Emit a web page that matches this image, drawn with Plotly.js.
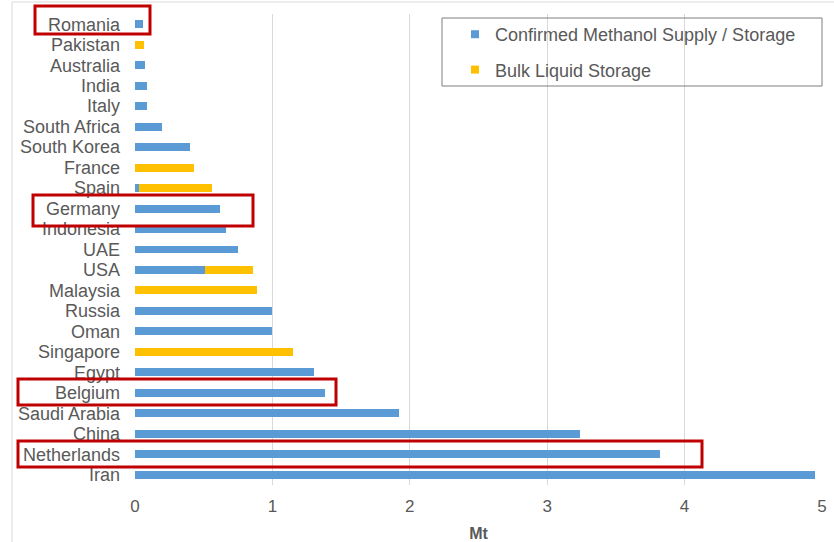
<!DOCTYPE html>
<html>
<head>
<meta charset="utf-8">
<script src="https://cdn.plot.ly/plotly-3.0.1.min.js"></script>
<style>
  html, body { margin: 0; padding: 0; background: #ffffff; }
  #chart { width: 834px; height: 542px; }
</style>
</head>
<body>
<div id="chart"></div>
<script>
// ---- data (top to bottom as shown) ----
const countries = ["Romania", "Pakistan", "Australia", "India", "Italy", "South Africa",
  "South Korea", "France", "Spain", "Germany", "Indonesia", "UAE", "USA", "Malaysia",
  "Russia", "Oman", "Singapore", "Egypt", "Belgium", "Saudi Arabia", "China",
  "Netherlands", "Iran"];
const methanolSupply = [0.06, 0, 0.07, 0.09, 0.09, 0.20, 0.40, 0, 0.03, 0.62, 0.66, 0.75,
  0.51, 0, 1.00, 1.00, 0, 1.30, 1.38, 1.92, 3.24, 3.82, 4.95];
const bulkStorage = [0, 0.065, 0, 0, 0, 0, 0, 0.43, 0.53, 0, 0, 0, 0.35, 0.885, 0, 0,
  1.15, 0, 0, 0, 0, 0, 0];
const seriesNames = ["Confirmed Methanol Supply / Storage", "Bulk Liquid Storage"];
const highlighted = ["Romania", "Germany", "Belgium", "Netherlands"];

// ---- style ----
const BLUE = "#5B9BD5", GOLD = "#FFC000", TXT = "#595959";
const FONT = "Liberation Sans, Arial, sans-serif";
const W = 834, H = 542, M = {l: 135, r: 12, t: 14, b: 57};
const PW = W - M.l - M.r, PH = H - M.t - M.b;
function px2paper(x0, y0, x1, y1) {
  return {x0: (x0 - M.l) / PW, x1: (x1 - M.l) / PW,
          y0: (H - M.b - y1) / PH, y1: (H - M.b - y0) / PH};
}
// highlight boxes (pixel extents in the picture)
const boxPx = {
  "Romania": [35, 6, 150, 34],
  "Germany": [33, 195, 253, 226],
  "Belgium": [18, 379, 336, 405],
  "Netherlands": [18, 441, 702, 467]
};

const traces = [
  {type: "bar", orientation: "h", y: countries, x: methanolSupply, name: seriesNames[0],
   marker: {color: BLUE}, showlegend: false, hoverinfo: "x+y"},
  {type: "bar", orientation: "h", y: countries, x: bulkStorage, name: seriesNames[1],
   marker: {color: GOLD}, showlegend: false, hoverinfo: "x+y"},
  {type: "scatter", mode: "markers", x: [null], y: [null], name: seriesNames[0],
   marker: {symbol: "square", size: 8, color: BLUE}, legendgroup: "a"},
  {type: "scatter", mode: "markers", x: [null], y: [null], name: seriesNames[1],
   marker: {symbol: "square", size: 8, color: GOLD}, legendgroup: "b"}
];

const shapes = [];
// outer frame
shapes.push({type: "rect", xref: "paper", yref: "paper",
  ...px2paper(12, 2, 840, 560), line: {color: "#d9d9d9", width: 1}, layer: "below"});
// legend frame
shapes.push({type: "rect", xref: "paper", yref: "paper",
  ...px2paper(442, 18, 822, 86), line: {color: "#7f7f7f", width: 1},
  fillcolor: "rgba(255,255,255,0)"});
highlighted.forEach(c => {
  const b = boxPx[c];
  shapes.push({type: "rect", xref: "paper", yref: "paper",
    ...px2paper(b[0], b[1], b[2], b[3]), line: {color: "#C00000", width: 3}});
});

const layout = {
  width: W, height: H,
  margin: M,
  paper_bgcolor: "#ffffff", plot_bgcolor: "#ffffff",
  barmode: "stack", bargap: 0.61,
  font: {family: FONT, color: TXT, size: 17},
  xaxis: {range: [0, 5], dtick: 1, tick0: 0, showgrid: true, gridcolor: "#d9d9d9",
          gridwidth: 1, zeroline: false, showline: false, ticks: "",
          tickfont: {size: 17, color: TXT}, ticklabelstandoff: 9,
          title: {text: "<b>Mt</b>", font: {size: 16, color: TXT}, standoff: 12},
          fixedrange: true},
  yaxis: {type: "category", categoryorder: "array", categoryarray: countries,
          tickmode: "array", tickvals: countries, ticktext: countries,
          autorange: "reversed", showgrid: false, zeroline: false, showline: false,
          ticks: "", tickfont: {size: 18, color: TXT}, ticklabelstandoff: 14,
          fixedrange: true},
  legend: {x: (455 - M.l) / PW, y: (H - M.b - 16) / PH, xanchor: "left", yanchor: "top",
           bgcolor: "rgba(255,255,255,0)", borderwidth: 0,
           font: {size: 18, color: TXT}, traceorder: "grouped", tracegroupgap: 9},
  shapes: shapes,
  showlegend: true
};

Plotly.newPlot("chart", traces, layout, {displayModeBar: false, staticPlot: true});
</script>
</body>
</html>
